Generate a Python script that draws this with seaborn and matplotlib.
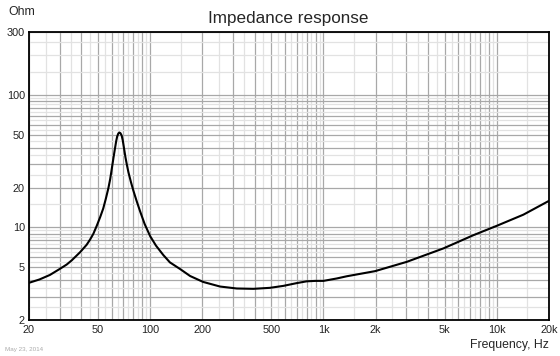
import numpy as np
import pandas as pd
import seaborn as sns
import matplotlib
matplotlib.use('Agg')
import matplotlib.pyplot as plt
from matplotlib.ticker import FixedLocator, FixedFormatter, NullFormatter

# impedance curve (Hz, Ohm)
freq = [20, 23, 26.4, 30, 33, 35.3, 39.4, 43, 45, 47, 49.2, 51.5, 53.6, 55.5,
        57.4, 58.8, 60, 61.4, 62.7, 63.7, 64.5, 65.5, 66.4, 67.4, 68.5, 69.5,
        70.6, 72, 73.5, 75, 77.5, 80, 83.5, 87.4, 93, 100, 108, 119, 130, 149,
        170, 202, 253, 316, 394, 491, 586, 701, 800, 900, 1000, 1194, 1362,
        1985, 3022, 4918, 7330, 10000, 14230, 20000]
ohm = [3.82, 4.05, 4.38, 4.85, 5.25, 5.65, 6.5, 7.4, 8.1, 8.95, 10.3, 12.0, 13.9,
       16.5, 19.8, 23.2, 27.5, 33.5, 39.7, 45, 48.6, 51.3, 52.2, 51.6, 49.5,
       45.5, 40, 34, 29.5, 26, 22, 19, 15.9, 13.3, 10.6, 8.6, 7.3, 6.2, 5.45,
       4.85, 4.3, 3.88, 3.58, 3.46, 3.44, 3.5, 3.62, 3.8, 3.92, 3.95, 3.95,
       4.12, 4.28, 4.68, 5.5, 6.95, 8.75, 10.3, 12.5, 15.9]

x_labels = {20: '20', 50: '50', 100: '100', 200: '200', 500: '500', 1000: '1k',
            2000: '2k', 5000: '5k', 10000: '10k', 20000: '20k'}
y_labels = {2: '2', 5: '5', 10: '10', 20: '20', 50: '50', 100: '100', 200: '200', 300: '300'}

# grid: dark lines on whole steps, light ones on half steps
x_major = [m * 10**d for d in (1, 2, 3) for m in range(1, 10) if 20 <= m * 10**d <= 20000] + [10000, 20000]
x_minor = [(m + 0.5) * 10**d for d in (1, 2, 3, 4) for m in range(1, 10) if 20 < (m + 0.5) * 10**d < 20000]
y_major = [m * 10**d for d in (0, 1) for m in range(1, 10) if m * 10**d >= 2] + [100, 300]
y_minor = [(m + 0.5) * 10**d for d in (0, 1, 2) for m in range(1, 10) if 2 < (m + 0.5) * 10**d < 300] + [200]

sns.set_style('white')
plt.rcParams['font.family'] = ['Liberation Sans', 'DejaVu Sans']

fig = plt.figure(figsize=(5.6, 3.56), dpi=100)
ax = fig.add_axes([29/560, 1 - 320/356, 520/560, 288/356])

df = pd.DataFrame({'freq': freq, 'ohm': ohm})
sns.lineplot(data=df, x='freq', y='ohm', color='black', lw=1.5, ax=ax, zorder=5)

ax.set_xscale('log')
ax.set_yscale('log')
ax.set_xlim(20, 20000)
ax.set_ylim(2, 300)

ax.xaxis.set_major_locator(FixedLocator(x_major))
ax.xaxis.set_major_formatter(FixedFormatter([x_labels.get(v, '') for v in x_major]))
ax.xaxis.set_minor_locator(FixedLocator(x_minor))
ax.xaxis.set_minor_formatter(NullFormatter())
ax.yaxis.set_major_locator(FixedLocator(y_major))
ax.yaxis.set_major_formatter(FixedFormatter([y_labels.get(v, '') for v in y_major]))
ax.yaxis.set_minor_locator(FixedLocator(y_minor))
ax.yaxis.set_minor_formatter(NullFormatter())

ax.grid(which='major', color='#a8a8a8', lw=0.9)
ax.grid(which='minor', color='#e2e2e2', lw=0.9)
ax.tick_params(which='both', length=0, labelsize=7.8, colors='#222222')
ax.tick_params(axis='y', pad=3)
ax.tick_params(axis='x', pad=3.5)

for s in ax.spines.values():
    s.set_color('black')
    s.set_linewidth(1.3)

ax.set_xlabel('')
ax.set_ylabel('')
fig.text(288/560, 1 - 18/356, 'Impedance response', ha='center', va='center', fontsize=12.3)
fig.text(8/560, 1 - 12/356, 'Ohm', ha='left', va='center', fontsize=8.8)
fig.text(549/560, 1 - 345/356, 'Frequency, Hz', ha='right', va='center', fontsize=8.8)
fig.text(5/560, 1 - 349/356, 'May 23, 2014', ha='left', va='center', fontsize=4.5, color='#aaaaaa')

fig.savefig('out.png', dpi=100)
